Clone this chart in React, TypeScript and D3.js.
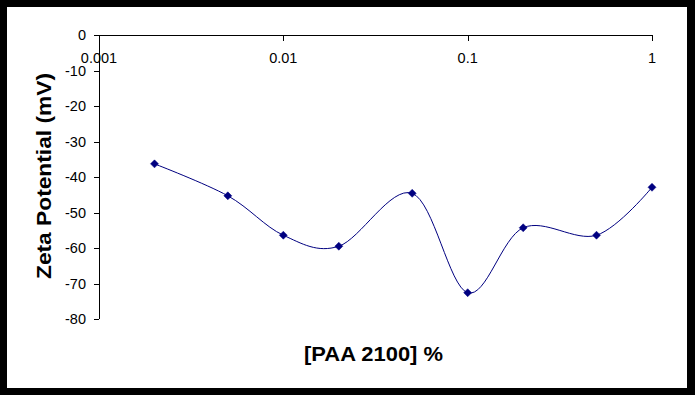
import React from "react";
import * as d3 from "d3";

const concentrations = [0.002, 0.005, 0.01, 0.02, 0.05, 0.1, 0.2, 0.5, 1];
const zeta = [-36.3, -45.3, -56.4, -59.5, -44.6, -72.6, -54.3, -56.4, -42.9];
const xTicks = [0.001, 0.01, 0.1, 1];
const xTickLabels = ["0.001", "0.01", "0.1", "1"];
const yTicks = [0, -10, -20, -30, -40, -50, -60, -70, -80];

const W = 695;
const H = 395;
const FONT = "'Liberation Sans', Arial, sans-serif";

export default function App() {
  const x = d3.scaleLog().domain([0.001, 1]).range([99, 652]);
  const y = d3.scaleLinear().domain([0, -80]).range([35, 319]);
  const pts: [number, number][] = concentrations.map((c, i) => [x(c), y(zeta[i])]);
  const line = d3.line().curve(d3.curveCardinal.tension(0))(pts) || "";
  const ms = 4;
  return (
    <svg width={W} height={H} style={{ position: "absolute", left: 0, top: 0, display: "block" }}>
      <rect x={0} y={0} width={W} height={H} fill="#000" />
      <rect x={7} y={7} width={680} height={381} fill="#fff" />
      <line x1={99} x2={652} y1={35.5} y2={35.5} stroke="#000" strokeWidth={1} />
      <line x1={99.5} x2={99.5} y1={35} y2={319} stroke="#000" strokeWidth={1} />
      {xTicks.map((t, i) => (
        <g key={"xt" + i}>
          <line x1={Math.round(x(t)) + 0.5} x2={Math.round(x(t)) + 0.5} y1={35} y2={41} stroke="#000" />
          <text x={x(t)} y={63} textAnchor="middle" fontFamily={FONT} fontSize={14.5} fill="#000">
            {xTickLabels[i]}
          </text>
        </g>
      ))}
      {yTicks.map((t, i) => (
        <g key={"yt" + i}>
          <line x1={94} x2={99} y1={Math.round(y(t)) + 0.5} y2={Math.round(y(t)) + 0.5} stroke="#000" />
          <text x={86} y={y(t) + 5} textAnchor="end" fontFamily={FONT} fontSize={14.5} fill="#000">
            {String(t)}
          </text>
        </g>
      ))}
      <path d={line} fill="none" stroke="#000080" strokeWidth={1} />
      {pts.map(([px, py], i) => (
        <path
          key={"m" + i}
          d={`M${px},${py - ms}L${px + ms},${py}L${px},${py + ms}L${px - ms},${py}Z`}
          fill="#000080"
          stroke="#000080"
          strokeWidth={0.5}
        />
      ))}
      <text
        transform={`translate(51,176) rotate(-90)`}
        textAnchor="middle"
        fontFamily={FONT}
        fontWeight="bold"
        fontSize={21}
        textLength={206}
        lengthAdjust="spacingAndGlyphs"
        fill="#000"
      >
        Zeta Potential (mV)
      </text>
      <text
        x={373.5}
        y={361}
        textAnchor="middle"
        fontFamily={FONT}
        fontWeight="bold"
        fontSize={20}
        textLength={139}
        lengthAdjust="spacingAndGlyphs"
        fill="#000"
      >
        [PAA 2100] %
      </text>
    </svg>
  );
}
